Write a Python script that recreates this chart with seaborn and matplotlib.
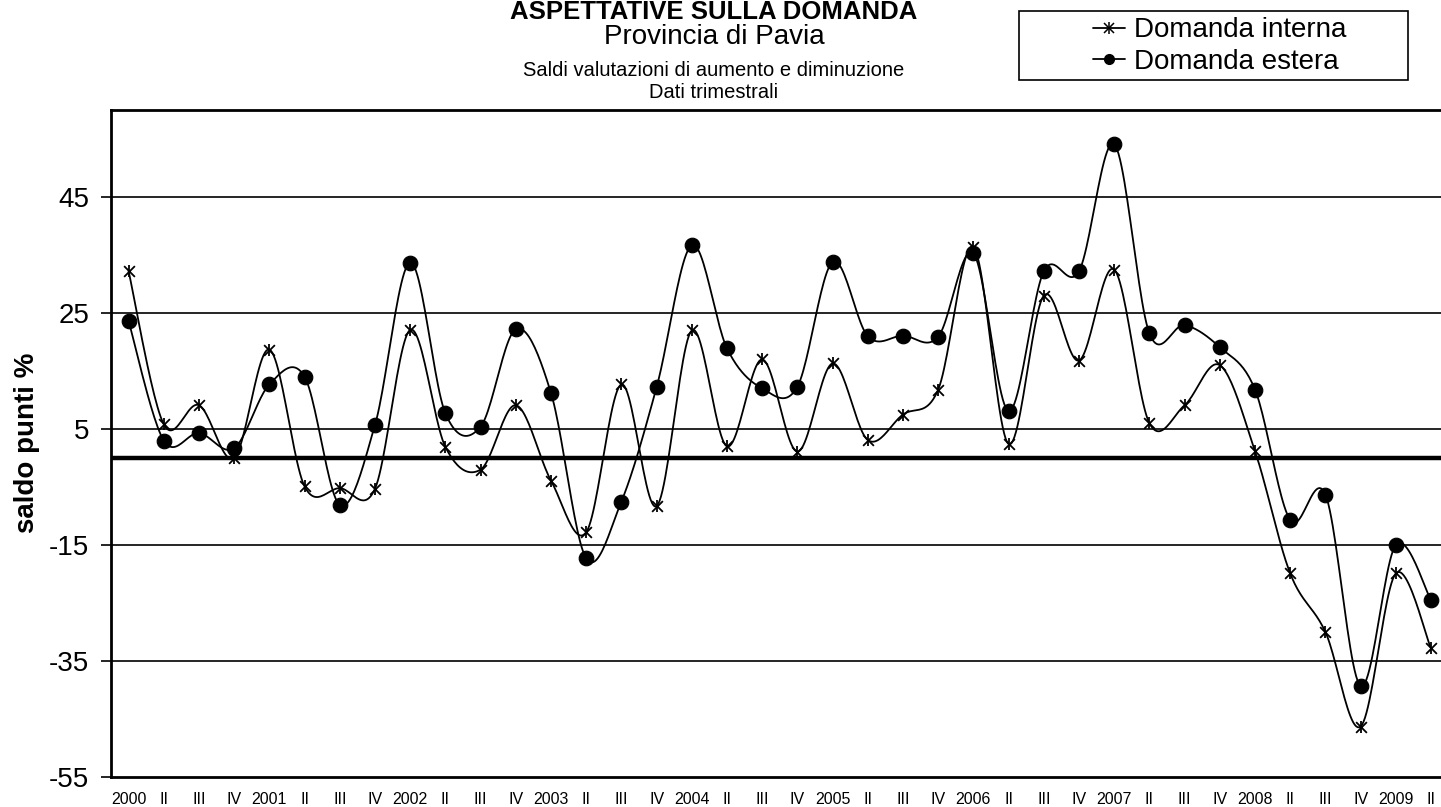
import numpy as np
import pandas as pd
import matplotlib
matplotlib.use("Agg")
import matplotlib.pyplot as plt
import seaborn as sns
from matplotlib.lines import Line2D
from matplotlib.patches import Rectangle
from matplotlib.legend_handler import HandlerTuple

# quarters 2000 .. 2009 II
quarter_labels = []
for year in range(2000, 2010):
    quarter_labels += [str(year), "II", "III", "IV"]
quarter_labels = quarter_labels[:38]

interna = [32.2, 5.8, 9.1, 0.0, 18.7, -4.9, -5.2, -5.3, 22.1, 1.9,
           -2.0, 9.1, -3.9, -12.8, 12.7, -8.3, 22.0, 2.0, 17.0, 1.1,
           16.3, 3.1, 7.5, 11.8, 36.4, 2.4, 28.0, 16.8, 32.5, 6.0,
           9.1, 16.0, 1.2, -19.9, -30.0, -46.3, -19.9, -32.8]
estera = [23.6, 3.0, 4.3, 1.7, 12.7, 14.0, -8.1, 5.7, 33.7, 7.7,
          5.4, 22.2, 11.2, -17.3, -7.5, 12.2, 36.7, 18.9, 12.0, 12.3,
          33.8, 21.0, 21.1, 20.9, 35.3, 8.1, 32.2, 32.2, 54.1, 21.5,
          22.9, 19.1, 11.8, -10.7, -6.3, -39.3, -15.0, -24.5]

series_names = ["Domanda interna", "Domanda estera"]


def smooth(y, n=24):
    # Excel-like smoothed line (Catmull-Rom through the points)
    x = np.arange(len(y), dtype=float)
    y = np.asarray(y, dtype=float)
    xp = np.concatenate([[x[0]], x, [x[-1]]])
    yp = np.concatenate([[y[0]], y, [y[-1]]])
    xs, ys = [], []
    t = np.linspace(0, 1, n, endpoint=False)
    for i in range(len(y) - 1):
        p0x, p1x, p2x, p3x = xp[i], xp[i + 1], xp[i + 2], xp[i + 3]
        p0y, p1y, p2y, p3y = yp[i], yp[i + 1], yp[i + 2], yp[i + 3]
        c1x = p1x + (p2x - p0x) / 6
        c2x = p2x - (p3x - p1x) / 6
        c1y = p1y + (p2y - p0y) / 6
        c2y = p2y - (p3y - p1y) / 6
        b0 = (1 - t) ** 3
        b1 = 3 * (1 - t) ** 2 * t
        b2 = 3 * (1 - t) * t ** 2
        b3 = t ** 3
        xs.append(b0 * p1x + b1 * c1x + b2 * c2x + b3 * p2x)
        ys.append(b0 * p1y + b1 * c1y + b2 * c2y + b3 * p2y)
    xs.append([x[-1]])
    ys.append([y[-1]])
    return np.concatenate(xs), np.concatenate(ys)


sns.set_theme(style="white")
plt.rcParams['font.family'] = ['Liberation Sans', 'DejaVu Sans']
plt.rcParams['axes.unicode_minus'] = False
plt.rcParams['text.color'] = 'black'
plt.rcParams['axes.labelcolor'] = 'black'
plt.rcParams['xtick.color'] = 'black'
plt.rcParams['ytick.color'] = 'black'

fig = plt.figure(figsize=(14.41, 8.07), dpi=100)
ax = fig.add_axes([111 / 1441, 30 / 807, 1337.6 / 1441, 667 / 807])

pos = np.arange(len(quarter_labels))
for name, vals in zip(series_names, [interna, estera]):
    sx, sy = smooth(vals)
    curve = pd.DataFrame({"x": sx, "y": sy})
    sns.lineplot(data=curve, x="x", y="y", sort=False, color="black",
                 linewidth=1.3, ax=ax, zorder=3)

pts_i = pd.DataFrame({"x": pos, "y": interna})
pts_e = pd.DataFrame({"x": pos, "y": estera})
sns.scatterplot(data=pts_i, x="x", y="y", marker="x", s=60, color="black",
                linewidth=1.3, ax=ax, zorder=4)
sns.scatterplot(data=pts_i, x="x", y="y", marker="|", s=80, color="black",
                linewidth=1.3, ax=ax, zorder=4)
sns.scatterplot(data=pts_e, x="x", y="y", marker="o", s=110, color="black",
                edgecolor="black", ax=ax, zorder=4)

ax.set_xlim(-0.5, 37.5)
ax.set_ylim(-55, 60)
ax.set_yticks(np.arange(-55, 46, 20))
ax.set_xticks(pos)
ax.set_xticklabels(quarter_labels, fontsize=11.5)
ax.tick_params(axis="y", labelsize=20, length=7.2, width=1.2, direction="out",
               left=True, pad=8.4, color="black")
ax.tick_params(axis="x", length=0, pad=11)

for v in [-35, -15, 5, 25, 45]:
    ax.axhline(v, color="black", linewidth=1.2, zorder=1)
ax.axhline(0, color="black", linewidth=3.2, zorder=2)

for side in ["left", "bottom", "top"]:
    ax.spines[side].set_color("black")
    ax.spines[side].set_linewidth(2)
ax.spines["right"].set_visible(False)
ax.set_xlabel("")
ax.set_ylabel("saldo punti %", fontsize=20, fontweight="bold", color="black")
ax.yaxis.set_label_coords(-(111 - 40) / 1337.6, (807 - 443 - 30) / 667)

# titles
cx = 714 / 1441
fig.text(cx, 1.0, "ASPETTATIVE SULLA DOMANDA", ha="center", va="top",
         fontsize=18.5, fontweight="bold")
fig.text(cx, 1 - 37 / 807, "Provincia di Pavia", ha="center", va="center", fontsize=20)
fig.text(cx, 1 - 70 / 807, "Saldi valutazioni di aumento e diminuzione",
         ha="center", va="center", fontsize=14.5)
fig.text(cx, 1 - 93 / 807, "Dati trimestrali", ha="center", va="center", fontsize=14.5)

# legend box drawn separately (wide padding as in the original)
fig.patches.append(Rectangle((1019 / 1441, 1 - 80 / 807), (1408 - 1019) / 1441,
                             69 / 807, transform=fig.transFigure, fill=False,
                             edgecolor="black", linewidth=1.2))
h_int = (Line2D([], [], color="black", lw=1.3, marker="x", ms=7, mew=1.1),
         Line2D([], [], color="black", lw=0, marker="|", ms=8, mew=1.1))
h_est = Line2D([], [], color="black", lw=1.3, marker="o", ms=7)
leg = fig.legend([h_int, h_est], series_names, loc="center left",
                 bbox_to_anchor=(1093 / 1441, 1 - 46 / 807),
                 handler_map={tuple: HandlerTuple(ndivide=1, pad=0)},
                 fontsize=20, frameon=False,
                 handlelength=1.16, handletextpad=0.33, borderpad=0,
                 labelspacing=0.2, borderaxespad=0)

fig.savefig("out.png", dpi=100, facecolor="white")
